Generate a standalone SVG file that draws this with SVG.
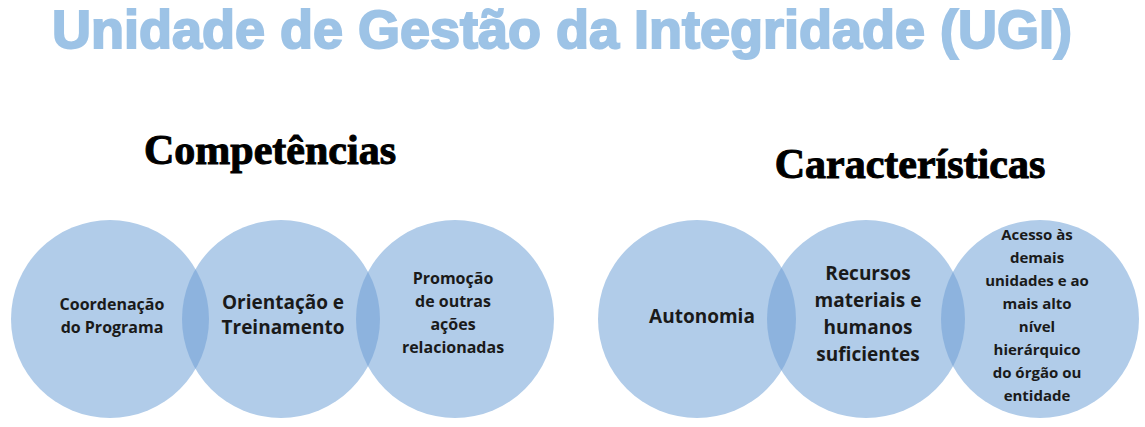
<svg xmlns="http://www.w3.org/2000/svg" width="1145" height="427" viewBox="0 0 1145 427">
<style>
.c{fill:#b1cce9}
.l{fill:#8db3de}
.t{font-family:"Open Sans","Liberation Sans",sans-serif;font-weight:bold;font-size:16px;fill:#1a1a1a;text-anchor:middle}
.tb{font-size:19px}
.ts{font-size:15px}
.h{font-family:"Liberation Serif",serif;font-weight:bold;font-size:42px;fill:#000;stroke:#000;stroke-width:1;text-anchor:middle}
</style>
<defs>
<clipPath id="k1"><circle cx="110" cy="319" r="99"/></clipPath>
<clipPath id="k2"><circle cx="455" cy="319" r="99"/></clipPath>
<clipPath id="k3"><circle cx="697" cy="319" r="99"/></clipPath>
<clipPath id="k4"><circle cx="1040" cy="319" r="99"/></clipPath>
</defs>
<text x="562" y="48" font-family="Liberation Sans,sans-serif" font-weight="bold" font-size="54" fill="#9dc3e6" stroke="#9dc3e6" stroke-width="2" text-anchor="middle">Unidade de Gestão da Integridade (UGI)</text>
<text class="h" x="270" y="164">Competências</text>
<text class="h" x="910" y="178">Características</text>
<g id="comp1"><circle class="c" cx="110" cy="319" r="99"/></g>
<g id="comp2"><circle class="c" cx="281" cy="319" r="99"/><circle class="l" cx="281" cy="319" r="99" clip-path="url(#k1)"/></g>
<g id="comp3"><circle class="c" cx="455" cy="319" r="99"/><circle class="l" cx="281" cy="319" r="99" clip-path="url(#k2)"/></g>
<g id="car1"><circle class="c" cx="697" cy="319" r="99"/></g>
<g id="car2"><circle class="c" cx="866" cy="319" r="99"/><circle class="l" cx="866" cy="319" r="99" clip-path="url(#k3)"/></g>
<g id="car3"><circle class="c" cx="1040" cy="319" r="99"/><circle class="l" cx="866" cy="319" r="99" clip-path="url(#k4)"/></g>
<g id="labels">
<text class="t" x="112" y="310">Coordenação</text><text class="t" x="112" y="333">do Programa</text>
<text class="t tb" x="283" y="309">Orientação e</text><text class="t tb" x="283" y="334">Treinamento</text>
<text class="t" x="453" y="284">Promoção</text><text class="t" x="453" y="307">de outras</text><text class="t" x="453" y="330">ações</text><text class="t" x="453" y="353">relacionadas</text>
<text class="t tb" x="702" y="323">Autonomia</text>
<text class="t tb" x="868" y="280">Recursos</text><text class="t tb" x="868" y="307">materiais e</text><text class="t tb" x="868" y="334">humanos</text><text class="t tb" x="868" y="361">suficientes</text>
<text class="t ts" x="1037" y="240">Acesso às</text><text class="t ts" x="1037" y="263">demais</text><text class="t ts" x="1037" y="286">unidades e ao</text><text class="t ts" x="1037" y="309">mais alto</text><text class="t ts" x="1037" y="332">nível</text><text class="t ts" x="1037" y="355">hierárquico</text><text class="t ts" x="1037" y="378">do órgão ou</text><text class="t ts" x="1037" y="401">entidade</text>
</g>
</svg>
